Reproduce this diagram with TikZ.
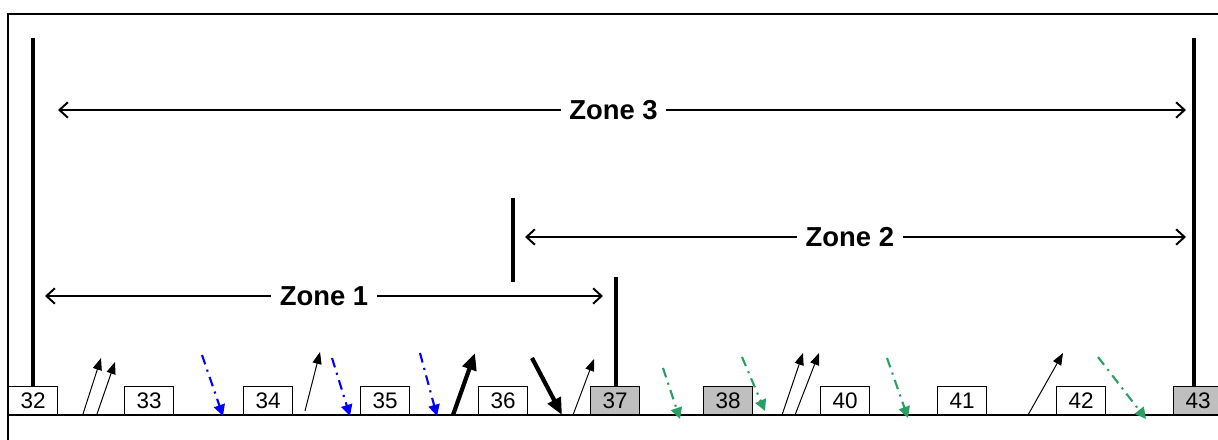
\documentclass[tikz,border=0pt]{standalone}
\usepackage{fontspec}
\setmainfont{Liberation Sans}
\usetikzlibrary{arrows.meta}

\definecolor{dashgreen}{RGB}{40,160,100}

\tikzset{
  slot/.style={draw,thick,fill=white,anchor=south west,inner sep=0pt,
    minimum width=1.225cm,minimum height=0.7cm,font=\fontsize{16}{16}\selectfont},
  greyslot/.style={slot,fill=black!25},
  zonebar/.style={line width=3.5pt},
  zonearrow/.style={line width=1.4pt,{Straight Barb[length=6pt,width=11pt]}-{Straight Barb[length=6pt,width=11pt]}},
  zonelabel/.style={fill=white,inner xsep=6pt,font=\fontsize{19.5}{19.5}\selectfont\bfseries},
  uparr/.style={line width=0.7pt,-{Triangle[length=8.5pt,width=6.5pt]}},
  heavy/.style={line width=3pt,-{Triangle[length=12pt,width=10pt]}},
  bluedash/.style={blue,line width=1.5pt,dash pattern=on 7pt off 4pt on 1.5pt off 4pt,
    -{Triangle[length=8pt,width=8pt]}},
  greendash/.style={bluedash,dashgreen}
}

\begin{document}
\begin{tikzpicture}[x=0.025cm,y=0.025cm]
\useasboundingbox (0,0) rectangle (1218,440);
\clip (0,0) rectangle (1218,440);

% frame and time line
\draw[line width=1pt] (8,-20) -- (8,426) -- (1240,426);
\draw[line width=1.4pt] (8,25) -- (1240,25);

% packets on the line
\node[slot] (p32) at (8,25) {32};
\node[slot] (p33) at (124,25) {33};
\node[slot] (p34) at (243,25) {34};
\node[slot] (p35) at (360,25) {35};
\node[slot] (p36) at (478,25) {36};
\node[greyslot] (p37) at (590,25) {37};
\node[greyslot] (p38) at (703,25) {38};
\node[slot] (p40) at (820,25) {40};
\node[slot] (p41) at (937,25) {41};
\node[slot] (p42) at (1056,25) {42};
\node[greyslot] (p43) at (1173,25) {43};

% zone limits
\coordinate (b32) at (33,402);
\coordinate (b36) at (513,242);
\coordinate (b36l) at (513,158);
\coordinate (b37) at (616,163);
\coordinate (b43) at (1194,402);
\draw[zonebar] (b32) -- (p32.north -| b32);
\draw[zonebar] (b36) -- (b36l);
\draw[zonebar] (b37) -- (p37.north -| b37);
\draw[zonebar] (b43) -- (p43.north -| b43);

% zones
\coordinate (z3l) at (58,330);
\coordinate (z3r) at (1186,330);
\coordinate (z2l) at (525,203);
\coordinate (z2r) at (1186,203);
\coordinate (z1l) at (45,144);
\coordinate (z1r) at (603,144);
\draw[zonearrow] (z3l) -- node[zonelabel,xshift=-6] {Zone 3} (z3r);
\draw[zonearrow] (z2l) -- node[zonelabel,xshift=-4] {Zone 2} (z2r);
\draw[zonearrow] (z1l) -- node[zonelabel] {Zone 1} (z1r);

% sent / received
\draw[uparr] (83,26) -- (101,82);
\draw[uparr] (97,26) -- (115,78);
\draw[bluedash] (202,85) -- (223,24);
\draw[uparr] (305,29) -- (320,88);
\draw[bluedash] (332,82) -- (350,24);
\draw[bluedash] (420,87) -- (437,24);
\draw[heavy] (453,25) -- (475,87);
\draw[heavy] (532,82) -- (562,25);
\draw[uparr] (573,25) -- (594,81);
\draw[greendash] (663,72) -- (680,21);
\draw[greendash] (742,83) -- (765,29);
\draw[uparr] (782,25) -- (803,87);
\draw[uparr] (795,25) -- (819,87);
\draw[greendash] (887,82) -- (908,22);
\draw[uparr] (1028,25) -- (1063,87);
\draw[greendash] (1098,83) -- (1146,21);
\end{tikzpicture}
\end{document}
